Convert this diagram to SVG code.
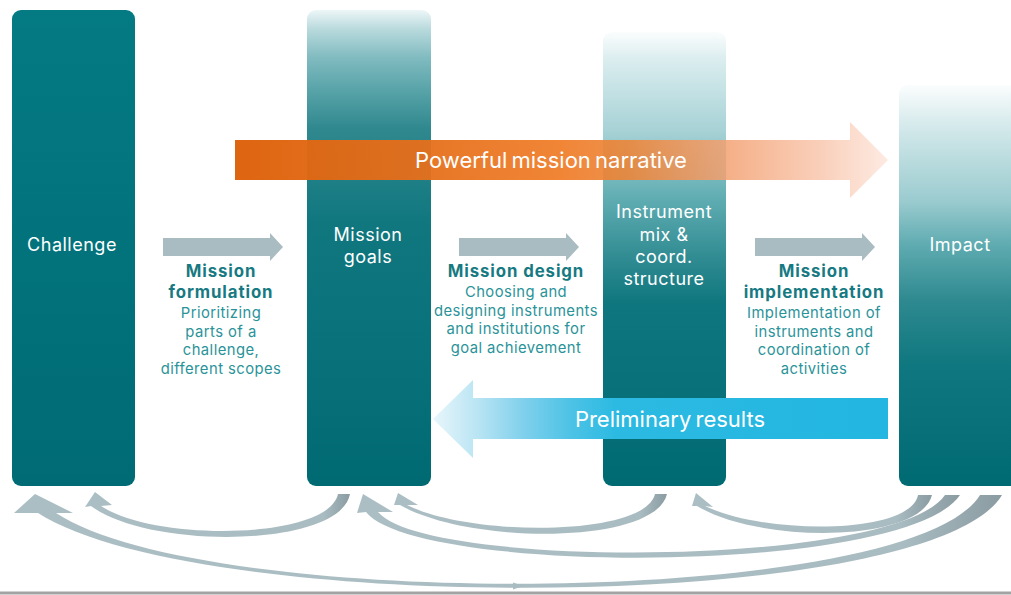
<svg xmlns="http://www.w3.org/2000/svg" width="1011" height="595" viewBox="0 0 1011 595">
<style>
.col{font-family:Inter,"Open Sans","DejaVu Sans",sans-serif;font-size:18px;fill:#ffffff;text-anchor:middle;letter-spacing:0.5px}
.big{font-family:Inter,"Open Sans","DejaVu Sans",sans-serif;font-size:22px;fill:#ffffff;text-anchor:middle;word-spacing:-2px}
.lb{font-family:Inter,"Open Sans","DejaVu Sans",sans-serif;font-size:16.8px;font-weight:bold;fill:#177a82;text-anchor:middle;letter-spacing:0.9px}
.ld{font-family:Inter,"Open Sans","DejaVu Sans",sans-serif;font-size:14.8px;fill:#2a9399;text-anchor:middle;letter-spacing:0.45px}
.step{fill:#a9bcc2}
</style>
<defs>
<linearGradient id="gChal" x1="0" y1="0" x2="0" y2="1">
<stop offset="0" stop-color="#047a83"/><stop offset="1" stop-color="#006b74"/>
</linearGradient>
<linearGradient id="gGoals" x1="0" y1="0" x2="0" y2="1">
<stop offset="0" stop-color="#edf6f7"/><stop offset="0.04" stop-color="#b9dadd"/><stop offset="0.1" stop-color="#80bbc0"/><stop offset="0.17" stop-color="#57a3a8"/><stop offset="0.25" stop-color="#2f888e"/><stop offset="0.45" stop-color="#10777f"/><stop offset="1" stop-color="#006a73"/>
</linearGradient>
<linearGradient id="gInst" x1="0" y1="0" x2="0" y2="1">
<stop offset="0" stop-color="#fbfdfd"/><stop offset="0.06" stop-color="#dbedef"/><stop offset="0.15" stop-color="#bddee1"/><stop offset="0.22" stop-color="#a6d1d5"/><stop offset="0.37" stop-color="#5eacb1"/><stop offset="0.5" stop-color="#2f8b91"/><stop offset="0.6" stop-color="#0e767e"/><stop offset="1" stop-color="#006a73"/>
</linearGradient>
<linearGradient id="gImp" x1="0" y1="0" x2="0" y2="1">
<stop offset="0" stop-color="#fbfdfd"/><stop offset="0.11" stop-color="#d2e8ea"/><stop offset="0.29" stop-color="#9acbcf"/><stop offset="0.4" stop-color="#5eabb0"/><stop offset="0.54" stop-color="#2d898f"/><stop offset="0.7" stop-color="#0f777f"/><stop offset="1" stop-color="#006a73"/>
</linearGradient>
<linearGradient id="gOr" gradientUnits="userSpaceOnUse" x1="235" y1="0" x2="888" y2="0">
<stop offset="0" stop-color="#dd620c" stop-opacity="0.98"/><stop offset="0.3" stop-color="#e6701c" stop-opacity="0.95"/><stop offset="0.5" stop-color="#f07f2c" stop-opacity="0.95"/><stop offset="0.6" stop-color="#ec8538" stop-opacity="0.9"/><stop offset="0.75" stop-color="#f3a070" stop-opacity="0.85"/><stop offset="0.9" stop-color="#f8c4aa" stop-opacity="0.8"/><stop offset="1" stop-color="#fde3d8" stop-opacity="0.75"/>
</linearGradient>
<linearGradient id="gBl" gradientUnits="userSpaceOnUse" x1="433" y1="0" x2="888" y2="0">
<stop offset="0" stop-color="#e8f6fb"/><stop offset="0.1" stop-color="#b8e4f3"/><stop offset="0.2" stop-color="#7fd0ec"/><stop offset="0.3" stop-color="#4ec3e6"/><stop offset="0.4" stop-color="#2cbae2"/><stop offset="1" stop-color="#22b6e0"/>
</linearGradient>
<linearGradient id="fA" gradientUnits="userSpaceOnUse" x1="85" y1="0" x2="350" y2="0">
<stop offset="0" stop-color="#abbec4"/><stop offset="0.9" stop-color="#a9bcc2"/><stop offset="1" stop-color="#8a9ca1"/>
</linearGradient>
<linearGradient id="fD" gradientUnits="userSpaceOnUse" x1="394" y1="0" x2="667" y2="0">
<stop offset="0" stop-color="#abbec4"/><stop offset="0.9" stop-color="#a9bcc2"/><stop offset="1" stop-color="#8a9ca1"/>
</linearGradient>
<linearGradient id="fE" gradientUnits="userSpaceOnUse" x1="692" y1="0" x2="932" y2="0">
<stop offset="0" stop-color="#abbec4"/><stop offset="0.85" stop-color="#a9bcc2"/><stop offset="1" stop-color="#8a9ca1"/>
</linearGradient>
<linearGradient id="fC" gradientUnits="userSpaceOnUse" x1="357" y1="0" x2="960" y2="0">
<stop offset="0" stop-color="#abbec4"/><stop offset="0.9" stop-color="#a9bcc2"/><stop offset="1" stop-color="#8a9ca1"/>
</linearGradient>
<linearGradient id="fB" gradientUnits="userSpaceOnUse" x1="14" y1="0" x2="1002" y2="0">
<stop offset="0" stop-color="#abbec4"/><stop offset="0.9" stop-color="#a9bcc2"/><stop offset="1" stop-color="#8a9ca1"/>
</linearGradient>
</defs>

<g id="challenge">
<rect x="12" y="10" width="123" height="476" rx="9" fill="url(#gChal)"/>
<text class="col" x="72" y="251">Challenge</text>
</g>
<g id="mission-goals">
<rect x="307" y="10" width="124" height="476" rx="9" fill="url(#gGoals)"/>
<text class="col" x="368" y="241">Mission</text>
<text class="col" x="368" y="263">goals</text>
</g>
<g id="instrument-mix">
<rect x="603" y="32" width="123" height="454" rx="9" fill="url(#gInst)"/>
</g>
<g id="impact">
<rect x="899" y="85" width="130" height="401" rx="9" fill="url(#gImp)"/>
<text class="col" x="960" y="251">Impact</text>
</g>

<g id="narrative">
<path d="M235,140 H850 V122 L888,160 L850,198 V180 H235 Z" fill="url(#gOr)"/>
<text class="big" x="551" y="168">Powerful mission narrative</text>
</g>

<g id="preliminary-results">
<path d="M888,398 V439 H473 V458 L433,419 L473,380 V398 Z" fill="url(#gBl)"/>
<text class="big" x="670" y="427">Preliminary results</text>
</g>

<g id="instrument-label">
<text class="col" x="664" y="218">Instrument</text>
<text class="col" x="664" y="241">mix &amp;</text>
<text class="col" x="664" y="263">coord.</text>
<text class="col" x="664" y="285">structure</text>
</g>

<g id="connectors">
<path class="step" d="M163,238 H270 V233 L283,247 L270,261 V256 H163 Z"/>
<path class="step" d="M459,238 H566 V233 L579,247 L566,261 V256 H459 Z"/>
<path class="step" d="M755,238 H862 V233 L875,247 L862,261 V256 H755 Z"/>
<path fill="url(#fA)" d="M350,494 C340,548 150,550 91,506 L85,507 L95,492 L112,505 L101,506 C155,542 328,540 338,494 Z"/>
<path fill="url(#fD)" d="M667,494 C655,545 470,545 400,505 L394,505 L398,493 L418,505 L407,505 C470,537 645,537 655,494 Z"/>
<path fill="url(#fE)" d="M932,495 C920,543 760,544 697,506 L692,506 L696,493 L713,507 L705,506 C765,535 910,535 918,495 Z"/>
<path fill="url(#fC)" d="M960,495 C905,576 415,575 366,512 L357,513 L363,494 L393,512 L378,512 C425,569 895,568 945,495 Z"/>
<path fill="url(#fB)" d="M1002,495 C930,614 200,617 38,513 L14,513 L35,494 L73,513 L56,513 C205,612 910,608 980,495 Z"/>
<polygon fill="#a9bcc2" points="513,582.5 523,586 513,589.5"/>
</g>

<g id="label-formulation">
<text class="lb" x="221" y="277">Mission</text>
<text class="lb" x="221" y="298">formulation</text>
<text class="ld" x="221" y="318">Prioritizing</text>
<text class="ld" x="221" y="336.5">parts of a</text>
<text class="ld" x="221" y="355">challenge,</text>
<text class="ld" x="221" y="373.5">different scopes</text>
</g>
<g id="label-design">
<text class="lb" x="516" y="277">Mission design</text>
<text class="ld" x="516" y="297">Choosing and</text>
<text class="ld" x="516" y="315.5">designing instruments</text>
<text class="ld" x="516" y="334">and institutions for</text>
<text class="ld" x="516" y="352.5">goal achievement</text>
</g>
<g id="label-implementation">
<text class="lb" x="814" y="277">Mission</text>
<text class="lb" x="814" y="298">implementation</text>
<text class="ld" x="814" y="318">Implementation of</text>
<text class="ld" x="814" y="336.5">instruments and</text>
<text class="ld" x="814" y="355">coordination of</text>
<text class="ld" x="814" y="373.5">activities</text>
</g>

<line x1="0" y1="593" x2="1011" y2="593" stroke="#a3a3a3" stroke-width="3"/>
</svg>
